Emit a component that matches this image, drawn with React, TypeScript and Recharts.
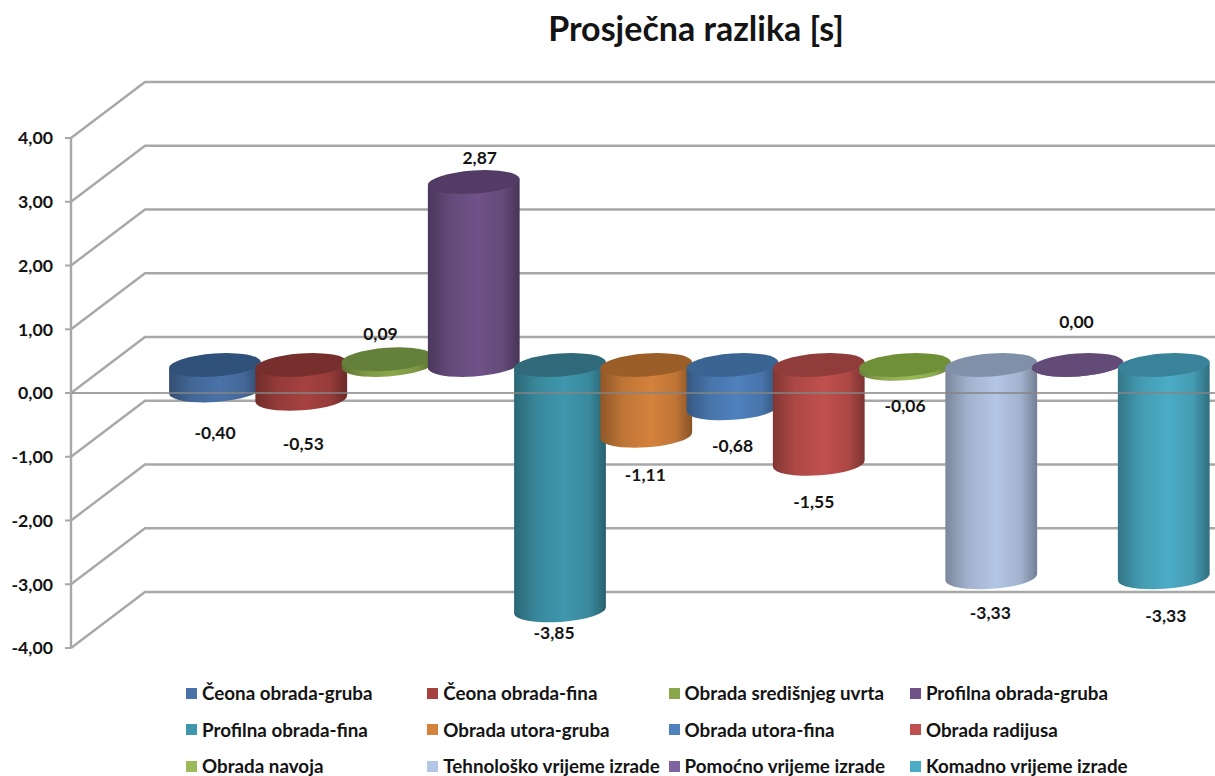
import {
  BarChart,
  Bar,
  XAxis,
  YAxis,
  CartesianGrid,
  LabelList,
  ReferenceLine,
} from "recharts";

const FONT = "Lato, 'Open Sans', sans-serif";
const TEXT_COLOR = "#141414";
const GRID_COLOR = "#a8a8a8";
const ZERO_LINE_COLOR = "#858585";

const categories = [
  "Čeona obrada-gruba",
  "Čeona obrada-fina",
  "Obrada središnjeg uvrta",
  "Profilna obrada-gruba",
  "Profilna obrada-fina",
  "Obrada utora-gruba",
  "Obrada utora-fina",
  "Obrada radijusa",
  "Obrada navoja",
  "Tehnološko vrijeme izrade",
  "Pomoćno vrijeme izrade",
  "Komadno vrijeme izrade",
];
const values = [-0.4, -0.53, 0.09, 2.87, -3.85, -1.11, -0.68, -1.55, -0.06, -3.33, 0.0, -3.33];
const bodyColors = [
  "#4a72a8", "#a5423f", "#8aa84a", "#6f5288", "#3f97ad", "#d4823c",
  "#4f81bd", "#c0504d", "#9bbb59", "#b4c6e5", "#8064a2", "#4bacc6",
];
const topColors = [
  "#30527a", "#772f2e", "#64803a", "#523c65", "#30697a", "#9c5e28",
  "#3a6592", "#8f3c3a", "#6f9037", "#8090a8", "#634b78", "#38839a",
];
const yTicks = [4, 3, 2, 1, 0, -1, -2, -3, -4];

// the labels were moved by hand in the original
const labelDx = [0, 2, -7, 6, -6, -1, 0, -5, 0, -1, -1, 2];
const labelDy = [30, 33, -14, -13, 11, 27, 26, 26, 25, 24, -32, 27];

const data = categories.map((name, i) => ({ name, value: values[i] }));

const DEPTH_X = 74;
const DEPTH_Y = 56;
const BAR_SHIFT = 28;
const RX = 46;
const RY = 11.5;
const TILT = 4;

const fmt = (v: number) => v.toFixed(2).replace(".", ",");

function shade(hex: string, k: number) {
  const n = parseInt(hex.slice(1), 16);
  const c = [(n >> 16) & 255, (n >> 8) & 255, n & 255].map((v) => Math.round(v * k));
  return `rgb(${c[0]},${c[1]},${c[2]})`;
}

function Cylinder(props: any) {
  const { x, y, width, height, index } = props;
  const cx = x + width / 2;
  const top = Math.min(y, y + height) - BAR_SHIFT;
  const bottom = Math.max(y, y + height) - BAR_SHIFT;
  const rad = (TILT * Math.PI) / 180;
  const ex = RX * Math.cos(rad);
  const ey = RX * Math.sin(rad);
  const color = bodyColors[index];
  const id = `cyl-${index}`;
  const body = [
    `M${cx - ex},${top + ey}`,
    `L${cx - ex},${bottom + ey}`,
    `A${RX},${RY} ${-TILT} 0 0 ${cx + ex},${bottom - ey}`,
    `L${cx + ex},${top - ey}`,
    "Z",
  ].join(" ");
  return (
    <g>
      <defs>
        <linearGradient id={id} x1="0" y1="0" x2="1" y2="0">
          <stop offset="0%" stopColor={shade(color, 0.68)} />
          <stop offset="25%" stopColor={shade(color, 0.9)} />
          <stop offset="55%" stopColor={color} />
          <stop offset="82%" stopColor={shade(color, 0.9)} />
          <stop offset="100%" stopColor={shade(color, 0.64)} />
        </linearGradient>
      </defs>
      <path d={body} fill={`url(#${id})`} />
      <ellipse
        cx={cx}
        cy={top}
        rx={RX}
        ry={RY}
        fill={topColors[index]}
        transform={`rotate(${-TILT} ${cx} ${top})`}
      />
    </g>
  );
}

function ValueLabel(props: any) {
  const { x, y, width, height, index } = props;
  const v = values[index];
  const top = Math.min(y, y + height) - BAR_SHIFT;
  const bottom = Math.max(y, y + height) - BAR_SHIFT;
  const anchor = v >= 0 ? top - RY : bottom + RY;
  return (
    <text
      x={x + width / 2 + labelDx[index]}
      y={anchor + labelDy[index]}
      textAnchor="middle"
      dominantBaseline="central"
      fontFamily={FONT}
      fontWeight={700}
      fontSize={17.5}
      fill={TEXT_COLOR}
    >
      {fmt(v)}
    </text>
  );
}

// grid line of a tick: goes back along the side wall, then across the back wall
function WallLine(p: any) {
  const backX = p.x1 + DEPTH_X;
  const backY = p.y1 - DEPTH_Y;
  return (
    <polyline
      key={p.key ?? p.index}
      points={`${p.x1},${p.y1} ${backX},${backY} ${p.x2},${backY}`}
      fill="none"
      stroke={GRID_COLOR}
      strokeWidth={2.4}
    />
  );
}

function LegendGrid() {
  return (
    <div style={{ position: "absolute", left: 0, top: 0 }}>
      {categories.map((name, i) => {
        const col = i % 4;
        const row = Math.floor(i / 4);
        return (
          <div
            key={name}
            style={{
              position: "absolute",
              left: 186 + col * 241.3,
              top: 683 + row * 36.5,
              height: 20,
              lineHeight: "20px",
              display: "flex",
              alignItems: "center",
              whiteSpace: "nowrap",
              fontFamily: FONT,
              fontWeight: 700,
              fontSize: 18.8,
              color: TEXT_COLOR,
            }}
          >
            <span
              style={{ width: 11, height: 11, marginRight: 5, background: bodyColors[i] }}
            />
            {name}
          </div>
        );
      })}
    </div>
  );
}

export default function App() {
  return (
    <div style={{ position: "absolute", left: 0, top: 0, width: 1215, height: 776, overflow: "hidden", background: "#fff" }}>
      <div
        style={{
          position: "absolute",
          left: 0,
          width: 1392,
          top: 6,
          textAlign: "center",
          fontFamily: FONT,
          fontWeight: 700,
          fontSize: 34,
          lineHeight: "44px",
          color: TEXT_COLOR,
        }}
      >
        Prosječna razlika [s]
      </div>
      <BarChart
        width={1215}
        height={776}
        data={data}
        margin={{ top: 138, right: 0, bottom: 128, left: 0 }}
        barCategoryGap={0}
      >
        <CartesianGrid vertical={false} horizontal={WallLine} />
        <XAxis
          dataKey="name"
          height={0}
          tick={false}
          tickLine={false}
          axisLine={{ stroke: GRID_COLOR, strokeWidth: 2.4 }}
          padding={{ left: 101, right: 8 }}
        />
        <YAxis
          width={71}
          domain={[-4, 4]}
          ticks={yTicks}
          interval={0}
          tickFormatter={fmt}
          tickMargin={12}
          tick={{ fill: TEXT_COLOR, fontFamily: FONT, fontWeight: 700, fontSize: 17.7 }}
          tickLine={{ stroke: GRID_COLOR, strokeWidth: 2 }}
          axisLine={{ stroke: GRID_COLOR, strokeWidth: 2.4 }}
        />
        <Bar dataKey="value" shape={Cylinder} isAnimationActive={false}>
          <LabelList dataKey="value" content={ValueLabel} />
        </Bar>
        <ReferenceLine y={0} stroke={ZERO_LINE_COLOR} strokeWidth={1.6} />
      </BarChart>
      <LegendGrid />
    </div>
  );
}
